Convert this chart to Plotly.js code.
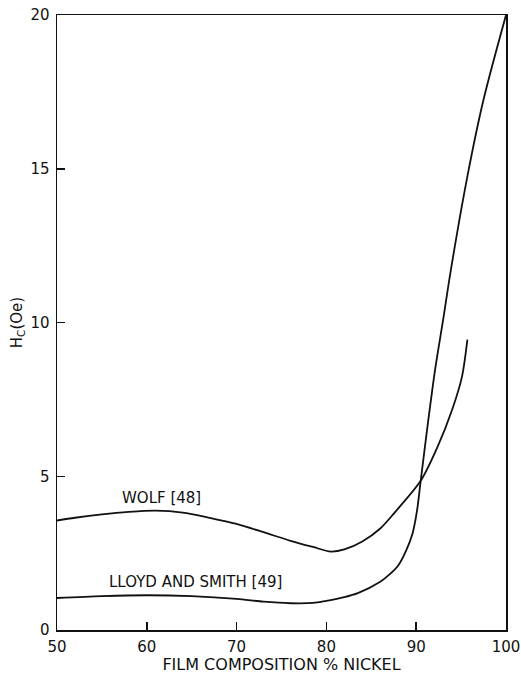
<!DOCTYPE html>
<html>
<head>
<meta charset="utf-8">
<script src="https://cdn.plot.ly/plotly-3.0.1.min.js"></script>
<style>
  html, body { margin: 0; padding: 0; background: #fff; }
  #chart { width: 521px; height: 674px; }
</style>
</head>
<body>
<div id="chart"></div>
<script>
// Coercive force H_C versus nickel content of Ni-Fe films
const wolfNickel = [50, 52, 55, 58, 61, 64, 67, 70, 73, 76, 78.5, 80.5, 82, 84, 86, 87.6, 90.5, 92.4, 94.0, 95.1, 95.7];
const wolfHc     = [3.56, 3.65, 3.76, 3.84, 3.88, 3.82, 3.65, 3.45, 3.18, 2.90, 2.70, 2.55, 2.62, 2.88, 3.3, 3.82, 4.85, 5.97, 7.16, 8.24, 9.44];

const lloydNickel = [50, 55, 60, 65, 70, 73, 76, 78.5, 80, 82, 83.5, 86, 87, 88, 88.9, 89.6, 90.1, 90.5, 91.35, 92.1, 93.0, 93.8, 95.6, 97.5, 100];
const lloydHc     = [1.04, 1.10, 1.13, 1.10, 1.01, 0.92, 0.87, 0.88, 0.95, 1.07, 1.2, 1.57, 1.8, 2.1, 2.6, 3.15, 3.9, 4.85, 6.83, 8.46, 10.09, 11.6, 14.6, 17.25, 20];

const curveLabels = ['WOLF [48]', 'LLOYD AND SMITH [49]'];
const labelX = [61.6, 65.4];
const labelY = [4.3, 1.57];

const xTicks = [50, 60, 70, 80, 90, 100];
const yTicks = [0, 5, 10, 15, 20];

const ink = '#111';
const family = '"DejaVu Sans", Lato, sans-serif';
const font = { family: family, size: 15, color: ink };

const traces = [
  { x: wolfNickel, y: wolfHc, mode: 'lines', line: { color: ink, width: 1.8, shape: 'spline', smoothing: 0.8 }, hoverinfo: 'none' },
  { x: lloydNickel, y: lloydHc, mode: 'lines', line: { color: ink, width: 1.8, shape: 'spline', smoothing: 0.8 }, hoverinfo: 'none' }
];

const annotations = curveLabels.map((t, i) => ({
  x: labelX[i], y: labelY[i], xref: 'x', yref: 'y', text: t, showarrow: false,
  font: { family: family, size: 15, color: ink }
}));

const layout = {
  width: 521, height: 674,
  margin: { l: 57, r: 15, t: 15, b: 44 },
  paper_bgcolor: '#fff', plot_bgcolor: '#fff',
  showlegend: false,
  font: font,
  xaxis: {
    range: [50, 100], tickvals: xTicks, ticktext: xTicks.map(String),
    ticks: 'inside', ticklen: 8, tickwidth: 1.5, tickcolor: ink,
    ticklabelstandoff: 2,
    showline: true, linecolor: ink, linewidth: 1.5, mirror: true,
    showgrid: false, zeroline: false,
    tickfont: { family: family, size: 15, color: ink },
    title: { text: 'FILM COMPOSITION % NICKEL', standoff: 9, font: { family: family, size: 16, color: ink } }
  },
  yaxis: {
    range: [0, 20], tickvals: yTicks, ticktext: yTicks.map(String),
    ticks: 'inside', ticklen: 8, tickwidth: 1.5, tickcolor: ink,
    ticklabelstandoff: 3,
    showline: true, linecolor: ink, linewidth: 1.5, mirror: true,
    showgrid: false, zeroline: false,
    tickfont: { family: family, size: 15, color: ink },
    title: { text: 'H<sub>C</sub>(Oe)', standoff: 4, font: { family: family, size: 15, color: ink } }
  },
  annotations: annotations
};

Plotly.newPlot('chart', traces, layout, { staticPlot: true, displayModeBar: false });
</script>
</body>
</html>
